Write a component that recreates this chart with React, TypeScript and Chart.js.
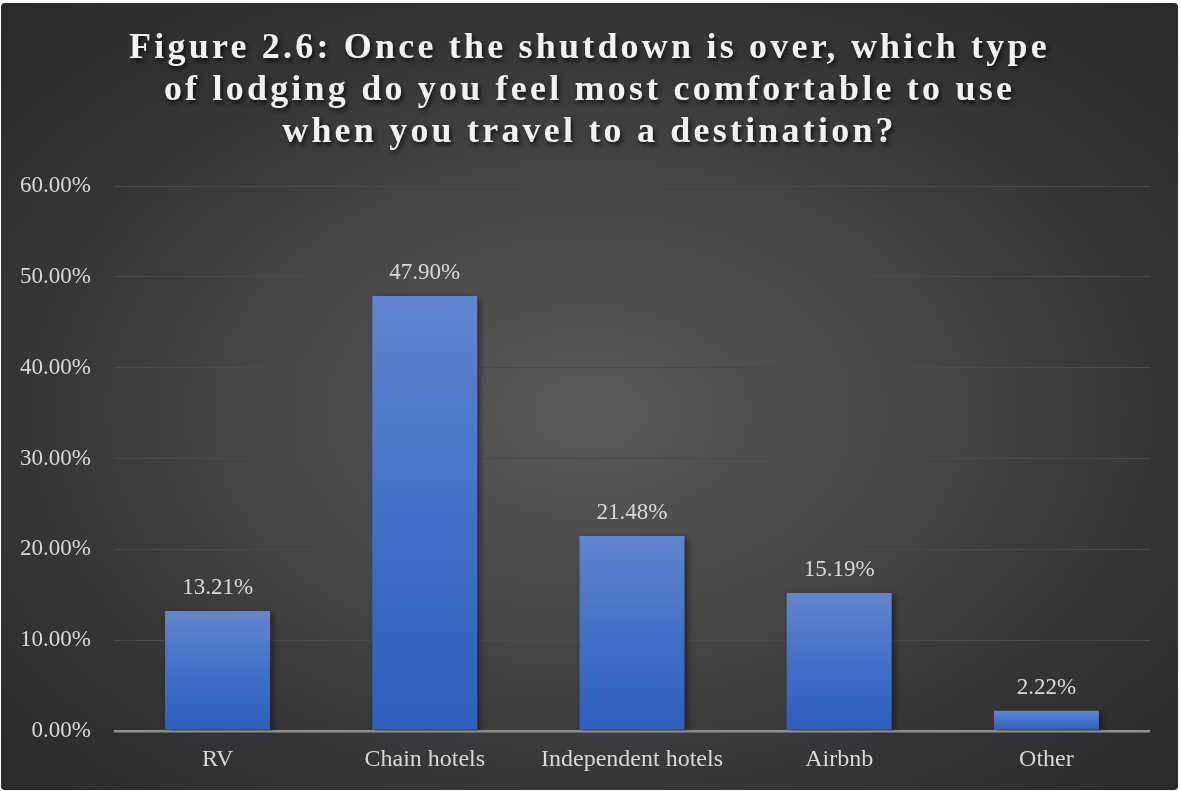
import React, { useEffect, useRef } from "react";
import { Chart, registerables } from "chart.js";

Chart.register(...registerables);

const TITLE_LINES = [
  "Figure 2.6: Once the shutdown is over, which type",
  "of lodging do you feel most comfortable to use",
  "when you travel to a destination?",
];
const CATEGORIES = ["RV", "Chain hotels", "Independent hotels", "Airbnb", "Other"];
const VALUES = [13.21, 47.9, 21.48, 15.19, 2.22];
const Y_MIN = 0;
const Y_MAX = 60;
const Y_STEP = 10;

const FONT = "'Liberation Serif', 'Times New Roman', serif";
const TEXT_COLOR = "#d9d9d9";

const shadowPlugin = {
  id: "barShadow",
  beforeDatasetsDraw(chart: any) {
    const ctx = chart.ctx;
    ctx.save();
    ctx.shadowColor = "rgba(0,0,0,0.45)";
    ctx.shadowBlur = 6;
    ctx.shadowOffsetX = 3;
    ctx.shadowOffsetY = 2;
  },
  afterDatasetsDraw(chart: any) {
    chart.ctx.restore();
  },
};

const dataLabelPlugin = {
  id: "dataLabels",
  afterDatasetsDraw(chart: any) {
    const ctx = chart.ctx;
    const meta = chart.getDatasetMeta(0);
    const data = chart.data.datasets[0].data as number[];
    ctx.save();
    ctx.font = `23px ${FONT}`;
    ctx.fillStyle = TEXT_COLOR;
    ctx.textAlign = "center";
    ctx.textBaseline = "alphabetic";
    meta.data.forEach((el: any, i: number) => {
      ctx.fillText(data[i].toFixed(2) + "%", el.x, el.y - 17);
    });
    ctx.restore();
  },
};

export default function App() {
  const canvasRef = useRef<HTMLCanvasElement | null>(null);

  useEffect(() => {
    document.body.style.margin = "0";
    document.body.style.background = "#ffffff";
    const canvas = canvasRef.current;
    if (!canvas) return;
    const chart = new Chart(canvas, {
      type: "bar",
      data: {
        labels: CATEGORIES,
        datasets: [
          {
            data: VALUES,
            backgroundColor: (c: any) => {
              const ch = c.chart;
              const ys = ch.scales && ch.scales.y;
              if (!ys || c.dataIndex === undefined) return "#4472c4";
              const top = ys.getPixelForValue(VALUES[c.dataIndex]);
              const bottom = ys.getPixelForValue(0);
              if (!isFinite(top) || !isFinite(bottom) || top === bottom) return "#4472c4";
              const g = ch.ctx.createLinearGradient(0, top, 0, bottom);
              g.addColorStop(0, "#6186cf");
              g.addColorStop(0.5, "#4270c8");
              g.addColorStop(1, "#2e5fbd");
              return g;
            },
            borderWidth: 0,
            barPercentage: 1,
            categoryPercentage: 0.507,
          },
        ],
      },
      options: {
        animation: false,
        responsive: false,
        maintainAspectRatio: false,
        layout: { padding: { left: 0, right: 28, top: 183, bottom: 0 } },
        plugins: {
          legend: { display: false },
          title: { display: false },
          tooltip: { enabled: false },
        },
        scales: {
          x: {
            grid: { display: false, drawTicks: false },
            border: { display: false },
            ticks: {
              color: TEXT_COLOR,
              font: { family: FONT, size: 24 },
              padding: 14,
              maxRotation: 0,
              autoSkip: false,
            },
            afterFit: (s: any) => {
              s.height = 59;
            },
          },
          y: {
            min: Y_MIN,
            max: Y_MAX,
            grid: {
              drawTicks: false,
              color: (c: any) => (c.tick && c.tick.value === 0 ? "#8f8f8f" : "#4a4a4a"),
              lineWidth: (c: any) => (c.tick && c.tick.value === 0 ? 2.5 : 1),
            },
            border: { display: false },
            ticks: {
              stepSize: Y_STEP,
              color: TEXT_COLOR,
              font: { family: FONT, size: 23 },
              padding: 23,
              callback: (v: any) => Number(v).toFixed(2) + "%",
            },
            afterFit: (s: any) => {
              s.width = 113;
            },
          },
        },
      },
      plugins: [shadowPlugin, dataLabelPlugin],
    });
    return () => chart.destroy();
  }, []);

  return (
    <div
      style={{
        position: "absolute",
        left: 1,
        top: 3,
        width: 1177,
        height: 787,
        borderRadius: 4,
        overflow: "hidden",
        background:
          "radial-gradient(ellipse 75% 75% at 50% 52%, #595959 0%, #484848 35%, #353535 65%, #272727 100%)",
      }}
    >
      <canvas
        ref={canvasRef}
        width={1177}
        height={787}
        style={{ position: "absolute", left: 0, top: 0, width: 1177, height: 787 }}
      />
      <div
        style={{
          position: "absolute",
          left: 0,
          top: 22,
          width: 1177,
          textAlign: "center",
          fontFamily: FONT,
          fontWeight: "bold",
          fontSize: 36,
          lineHeight: "42px",
          letterSpacing: "3.2px",
          color: "#f2f2f2",
          textShadow: "2px 3px 4px rgba(0,0,0,0.7)",
          whiteSpace: "nowrap",
        }}
      >
        {TITLE_LINES.map((l, i) => (
          <div key={i}>{l}</div>
        ))}
      </div>
    </div>
  );
}
